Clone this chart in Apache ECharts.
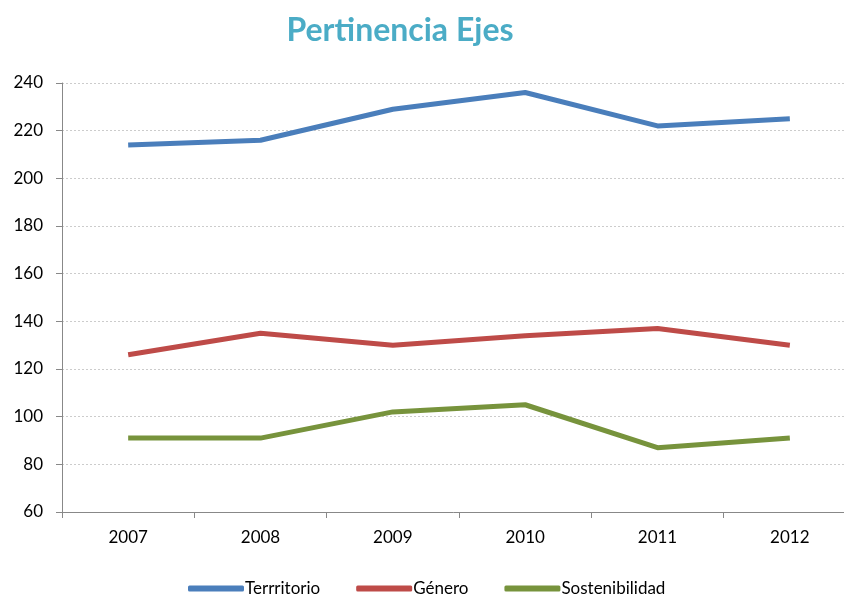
<!DOCTYPE html>
<html>
<head>
<meta charset="utf-8">
<script src="https://cdn.jsdelivr.net/npm/echarts@6/dist/echarts.min.js"></script>
<style>
  html, body { margin: 0; padding: 0; background: #fff; }
  #chart { width: 844px; height: 598px; }
</style>
</head>
<body>
<div id="chart"></div>
<script>
// data
const years = ["2007", "2008", "2009", "2010", "2011", "2012"];
const territorio = [214, 216, 229, 236, 222, 225];
const genero = [126, 135, 130, 134, 137, 130];
const sostenibilidad = [91, 91, 102, 105, 87, 91];

const font = "Lato, 'Open Sans', sans-serif";

const chart = echarts.init(document.getElementById("chart"));

const makeLine = (name, data, color) => ({
  name: name,
  type: "line",
  data: data,
  symbol: "none",
  lineStyle: { width: 5, color: color },
  itemStyle: { color: color },
});

chart.setOption({
  animation: false,
  title: {
    text: "Pertinencia Ejes",
    left: 395,
    top: 10,
    textAlign: "center",
    textStyle: { color: "#4BACC6", fontSize: 32, fontWeight: "bold", fontFamily: font },
  },
  legend: {
    bottom: -4,
    left: 183,
    itemWidth: 56,
    itemHeight: 6,
    itemGap: 36,
    icon: "roundRect",
    textStyle: { fontSize: 17, color: "#000", fontFamily: font, padding: [0, 0, 0, -4] },
    data: ["Terrritorio", "Género", "Sostenibilidad"],
  },
  grid: { left: 62, top: 83, width: 794, height: 429, outerBoundsMode: "none" },
  xAxis: {
    type: "category",
    data: years,
    boundaryGap: true,
    axisLine: { lineStyle: { color: "#888", width: 1 } },
    axisTick: { show: true, length: 6, alignWithLabel: false, lineStyle: { color: "#888" } },
    axisLabel: { fontSize: 17, color: "#000", fontFamily: font, margin: 17 },
  },
  yAxis: {
    type: "value",
    min: 60,
    max: 240,
    interval: 20,
    axisLine: { show: true, lineStyle: { color: "#888", width: 1 } },
    axisTick: { show: true, length: 6, lineStyle: { color: "#888" } },
    axisLabel: { fontSize: 17, color: "#000", fontFamily: font, margin: 19 },
    splitLine: { lineStyle: { color: "#ccc", type: [2, 2] } },
  },
  series: [
    makeLine("Terrritorio", territorio, "#4A7EBB"),
    makeLine("Género", genero, "#BE4B48"),
    makeLine("Sostenibilidad", sostenibilidad, "#77933C"),
  ],
});
</script>
</body>
</html>
